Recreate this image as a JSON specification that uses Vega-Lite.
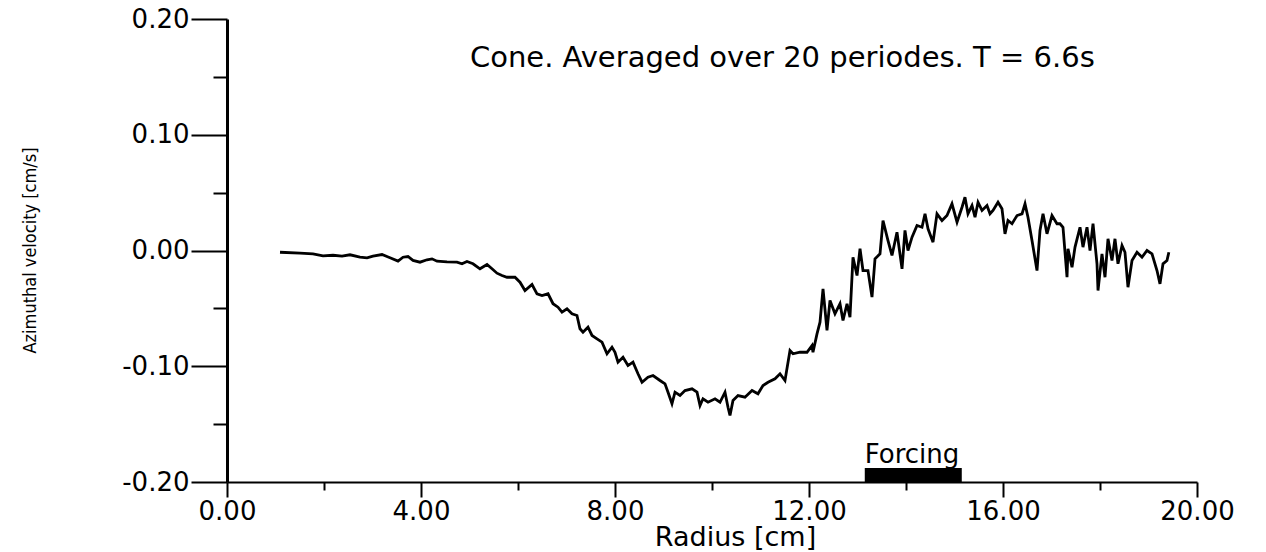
{
  "$schema": "https://vega.github.io/schema/vega-lite/v6.json",
  "autosize": {"type": "none"},
  "width": 970,
  "height": 463,
  "padding": {"left": 227, "top": 19, "right": 69, "bottom": 70},
  "background": "white",
  "config": {
    "view": {"stroke": null},
    "font": "DejaVu Sans"
  },
  "datasets": {
    "profile": [
      {"r": 1.093, "v": -0.0015}, {"r": 1.505, "v": -0.0023}, {"r": 1.773, "v": -0.0029}, {"r": 1.979, "v": -0.0046},
      {"r": 2.186, "v": -0.0041}, {"r": 2.371, "v": -0.0049}, {"r": 2.536, "v": -0.0037}, {"r": 2.742, "v": -0.0058},
      {"r": 2.887, "v": -0.0063}, {"r": 3.010, "v": -0.0049}, {"r": 3.196, "v": -0.0035}, {"r": 3.361, "v": -0.0063},
      {"r": 3.526, "v": -0.0092}, {"r": 3.629, "v": -0.0058}, {"r": 3.732, "v": -0.0052}, {"r": 3.835, "v": -0.0086},
      {"r": 3.979, "v": -0.0101}, {"r": 4.124, "v": -0.0080}, {"r": 4.227, "v": -0.0072}, {"r": 4.330, "v": -0.0092},
      {"r": 4.536, "v": -0.0098}, {"r": 4.742, "v": -0.0101}, {"r": 4.845, "v": -0.0115}, {"r": 4.948, "v": -0.0095},
      {"r": 5.072, "v": -0.0115}, {"r": 5.216, "v": -0.0158}, {"r": 5.361, "v": -0.0121}, {"r": 5.464, "v": -0.0158},
      {"r": 5.567, "v": -0.0196}, {"r": 5.670, "v": -0.0216}, {"r": 5.773, "v": -0.0231}, {"r": 5.938, "v": -0.0231},
      {"r": 6.041, "v": -0.0274}, {"r": 6.144, "v": -0.0346}, {"r": 6.289, "v": -0.0294}, {"r": 6.392, "v": -0.0374},
      {"r": 6.495, "v": -0.0389}, {"r": 6.619, "v": -0.0374}, {"r": 6.722, "v": -0.0460}, {"r": 6.825, "v": -0.0490},
      {"r": 6.907, "v": -0.0533}, {"r": 7.010, "v": -0.0504}, {"r": 7.113, "v": -0.0547}, {"r": 7.216, "v": -0.0562},
      {"r": 7.278, "v": -0.0676}, {"r": 7.340, "v": -0.0706}, {"r": 7.443, "v": -0.0663}, {"r": 7.526, "v": -0.0734},
      {"r": 7.629, "v": -0.0763}, {"r": 7.732, "v": -0.0792}, {"r": 7.835, "v": -0.0892}, {"r": 7.938, "v": -0.0835},
      {"r": 8.000, "v": -0.0879}, {"r": 8.062, "v": -0.0965}, {"r": 8.165, "v": -0.0922}, {"r": 8.268, "v": -0.0994},
      {"r": 8.371, "v": -0.0965}, {"r": 8.474, "v": -0.1065}, {"r": 8.557, "v": -0.1138}, {"r": 8.680, "v": -0.1095},
      {"r": 8.784, "v": -0.1080}, {"r": 8.928, "v": -0.1123}, {"r": 9.031, "v": -0.1152}, {"r": 9.093, "v": -0.1224},
      {"r": 9.175, "v": -0.1324}, {"r": 9.237, "v": -0.1224}, {"r": 9.340, "v": -0.1253}, {"r": 9.443, "v": -0.1210},
      {"r": 9.588, "v": -0.1195}, {"r": 9.691, "v": -0.1224}, {"r": 9.753, "v": -0.1339}, {"r": 9.814, "v": -0.1281},
      {"r": 9.918, "v": -0.1311}, {"r": 10.062, "v": -0.1281}, {"r": 10.165, "v": -0.1311}, {"r": 10.268, "v": -0.1224},
      {"r": 10.330, "v": -0.1354}, {"r": 10.371, "v": -0.1425}, {"r": 10.433, "v": -0.1296}, {"r": 10.536, "v": -0.1253},
      {"r": 10.680, "v": -0.1267}, {"r": 10.825, "v": -0.1210}, {"r": 10.948, "v": -0.1238}, {"r": 11.052, "v": -0.1166},
      {"r": 11.155, "v": -0.1138}, {"r": 11.299, "v": -0.1108}, {"r": 11.402, "v": -0.1065}, {"r": 11.505, "v": -0.1123},
      {"r": 11.608, "v": -0.0864}, {"r": 11.670, "v": -0.0892}, {"r": 11.814, "v": -0.0879}, {"r": 11.959, "v": -0.0879},
      {"r": 12.062, "v": -0.0821}, {"r": 12.082, "v": -0.0879}, {"r": 12.165, "v": -0.0720}, {"r": 12.227, "v": -0.0619},
      {"r": 12.289, "v": -0.0331}, {"r": 12.371, "v": -0.0691}, {"r": 12.433, "v": -0.0432}, {"r": 12.536, "v": -0.0547},
      {"r": 12.639, "v": -0.0460}, {"r": 12.701, "v": -0.0605}, {"r": 12.784, "v": -0.0460}, {"r": 12.845, "v": -0.0576},
      {"r": 12.907, "v": -0.0058}, {"r": 12.990, "v": -0.0216}, {"r": 13.052, "v": 0.0015}, {"r": 13.113, "v": -0.0173},
      {"r": 13.216, "v": -0.0173}, {"r": 13.299, "v": -0.0403}, {"r": 13.361, "v": -0.0072}, {"r": 13.464, "v": -0.0029},
      {"r": 13.526, "v": 0.0259}, {"r": 13.629, "v": 0.0086}, {"r": 13.711, "v": -0.0043}, {"r": 13.814, "v": 0.0158},
      {"r": 13.918, "v": -0.0158}, {"r": 13.979, "v": 0.0173}, {"r": 14.041, "v": 0.0000}, {"r": 14.124, "v": 0.0115},
      {"r": 14.227, "v": 0.0216}, {"r": 14.330, "v": 0.0201}, {"r": 14.392, "v": 0.0317}, {"r": 14.454, "v": 0.0187},
      {"r": 14.557, "v": 0.0072}, {"r": 14.639, "v": 0.0317}, {"r": 14.742, "v": 0.0259}, {"r": 14.845, "v": 0.0302},
      {"r": 14.948, "v": 0.0403}, {"r": 15.052, "v": 0.0245}, {"r": 15.155, "v": 0.0374}, {"r": 15.216, "v": 0.0460},
      {"r": 15.278, "v": 0.0317}, {"r": 15.361, "v": 0.0389}, {"r": 15.423, "v": 0.0288}, {"r": 15.485, "v": 0.0417},
      {"r": 15.567, "v": 0.0346}, {"r": 15.670, "v": 0.0389}, {"r": 15.732, "v": 0.0317}, {"r": 15.794, "v": 0.0346},
      {"r": 15.897, "v": 0.0417}, {"r": 15.979, "v": 0.0360}, {"r": 16.041, "v": 0.0144}, {"r": 16.103, "v": 0.0259},
      {"r": 16.186, "v": 0.0231}, {"r": 16.289, "v": 0.0302}, {"r": 16.392, "v": 0.0317}, {"r": 16.454, "v": 0.0403},
      {"r": 16.515, "v": 0.0288}, {"r": 16.598, "v": 0.0086}, {"r": 16.701, "v": -0.0173}, {"r": 16.763, "v": 0.0173},
      {"r": 16.825, "v": 0.0317}, {"r": 16.907, "v": 0.0144}, {"r": 17.010, "v": 0.0302}, {"r": 17.113, "v": 0.0231},
      {"r": 17.175, "v": 0.0231}, {"r": 17.237, "v": 0.0201}, {"r": 17.320, "v": -0.0231}, {"r": 17.340, "v": 0.0015},
      {"r": 17.423, "v": -0.0144}, {"r": 17.485, "v": 0.0029}, {"r": 17.588, "v": 0.0201}, {"r": 17.649, "v": 0.0029},
      {"r": 17.732, "v": 0.0201}, {"r": 17.794, "v": 0.0000}, {"r": 17.856, "v": 0.0231}, {"r": 17.938, "v": -0.0115},
      {"r": 17.959, "v": -0.0346}, {"r": 18.041, "v": -0.0029}, {"r": 18.103, "v": -0.0231}, {"r": 18.165, "v": 0.0101},
      {"r": 18.247, "v": -0.0086}, {"r": 18.309, "v": 0.0101}, {"r": 18.371, "v": -0.0115}, {"r": 18.454, "v": 0.0043},
      {"r": 18.515, "v": -0.0015}, {"r": 18.577, "v": -0.0317}, {"r": 18.660, "v": -0.0086}, {"r": 18.763, "v": -0.0015},
      {"r": 18.866, "v": -0.0058}, {"r": 18.969, "v": 0.0000}, {"r": 19.072, "v": -0.0029}, {"r": 19.175, "v": -0.0173},
      {"r": 19.237, "v": -0.0288}, {"r": 19.299, "v": -0.0115}, {"r": 19.381, "v": -0.0086}, {"r": 19.420, "v": -0.0015}
    ],
    "forcing": [
      {"r": 13.15, "r_end": 15.15, "v": -0.2, "v_top": -0.188}
    ],
    "notes": [
      {"r": 13.15, "v": -0.1835, "label": "Forcing", "align": "left"},
      {"r": 11.45, "v": 0.1667, "label": "Cone. Averaged over 20 periodes. T = 6.6s", "align": "center"}
    ]
  },
  "layer": [
    {
      "data": {"name": "profile"},
      "mark": {"type": "line", "color": "black", "strokeWidth": 2.8, "strokeJoin": "miter", "interpolate": "linear"},
      "encoding": {
        "x": {
          "field": "r",
          "type": "quantitative",
          "scale": {"domain": [0, 20], "nice": false, "zero": false},
          "axis": {
            "title": "Radius [cm]",
            "titleFont": "DejaVu Sans",
            "titleFontSize": 27,
            "titleFontWeight": "normal",
            "titleColor": "black",
            "titleX": 508,
            "titleY": 63,
            "titleAlign": "center",
            "titleBaseline": "alphabetic",
            "values": [0, 2, 4, 6, 8, 10, 12, 14, 16, 18, 20],
            "labelExpr": "datum.value % 4 == 0 ? format(datum.value, '.2f') : ''",
            "labelFont": "DejaVu Sans",
            "labelFontSize": 26,
            "labelColor": "black",
            "labelPadding": 1,
            "labelFlush": false,
            "labelOverlap": false,
            "labelBaseline": "top",
            "domainColor": "black",
            "domainWidth": 2,
            "tickColor": "black",
            "tickWidth": 2,
            "tickSize": {"condition": {"test": "datum.value % 4 == 0", "value": 15}, "value": 8},
            "grid": false
          }
        },
        "y": {
          "field": "v",
          "type": "quantitative",
          "scale": {"domain": [-0.2, 0.2], "nice": false, "zero": false},
          "axis": {
            "title": "Azimuthal velocity [cm/s]",
            "titleFont": "DejaVu Sans Condensed",
            "titleFontSize": 18,
            "titleFontWeight": "normal",
            "titleColor": "black",
            "titleAngle": -90,
            "titleX": -197,
            "titleY": 231,
            "titleAlign": "center",
            "titleBaseline": "middle",
            "values": [-0.2, -0.15, -0.1, -0.05, 0, 0.05, 0.1, 0.15, 0.2],
            "labelExpr": "abs(round(datum.value * 20)) % 2 == 0 ? (datum.value < -0.001 ? '-' : '') + format(abs(datum.value), '.2f') : ''",
            "labelFont": "DejaVu Sans",
            "labelFontSize": 26,
            "labelColor": "black",
            "labelPadding": 2,
            "labelFlush": false,
            "labelOverlap": false,
            "labelBaseline": "middle",
            "domainColor": "black",
            "domainWidth": 3,
            "tickColor": "black",
            "tickWidth": 2,
            "tickSize": {"condition": {"test": "abs(round(datum.value * 20)) % 2 == 0", "value": 36}, "value": 14},
            "grid": false
          }
        }
      }
    },
    {
      "data": {"name": "forcing"},
      "mark": {"type": "rect", "color": "black"},
      "encoding": {
        "x": {"field": "r", "type": "quantitative"},
        "x2": {"field": "r_end"},
        "y": {"field": "v", "type": "quantitative"},
        "y2": {"field": "v_top"}
      }
    },
    {
      "data": {"name": "notes"},
      "transform": [{"filter": "datum.align == 'left'"}],
      "mark": {"type": "text", "font": "DejaVu Sans", "fontSize": 26, "color": "black", "align": "left", "baseline": "alphabetic"},
      "encoding": {
        "x": {"field": "r", "type": "quantitative"},
        "y": {"field": "v", "type": "quantitative"},
        "text": {"field": "label"}
      }
    },
    {
      "data": {"name": "notes"},
      "transform": [{"filter": "datum.align == 'center'"}],
      "mark": {"type": "text", "font": "DejaVu Sans", "fontSize": 29, "color": "black", "align": "center", "baseline": "middle"},
      "encoding": {
        "x": {"field": "r", "type": "quantitative"},
        "y": {"field": "v", "type": "quantitative"},
        "text": {"field": "label"}
      }
    }
  ]
}
